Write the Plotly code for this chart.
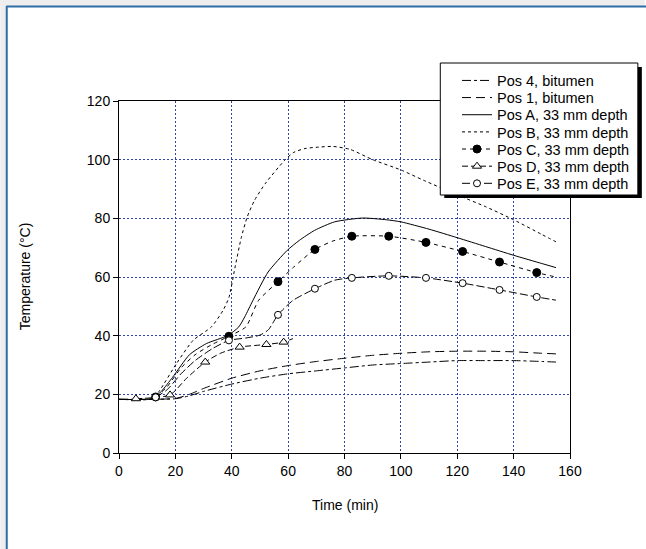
import plotly.graph_objects as go

# ---------------- data ----------------
pos4_x = [0, 10, 20, 25, 30, 40, 50, 60, 70, 80, 90, 100, 110, 120, 130, 140, 150, 155]
pos4_y = [18.3, 18.3, 18.5, 19.5, 21, 23.5, 25.5, 27, 28, 29, 30, 30.5, 31, 31.5, 31.5, 31.5, 31.2, 31]

pos1_x = [0, 10, 20, 25, 30, 40, 50, 60, 70, 80, 90, 100, 110, 120, 130, 140, 150, 155]
pos1_y = [18.3, 18.3, 18.6, 20, 22, 25.5, 28, 29.8, 31.2, 32.3, 33.3, 34, 34.5, 34.7, 34.7, 34.5, 34, 33.8]

posA_x = [0, 12, 15, 19, 25, 31, 38.7, 42.5, 44.6, 47.5, 52.9, 59.7, 64, 69.4, 76.5, 86.4, 95, 100, 110, 120, 130, 140, 150, 155]
posA_y = [18.3, 18.6, 21, 25.8, 33.5, 37.3, 40.1, 43, 46.4, 52, 61.7, 69.1, 72.5, 75.9, 78.8, 80.1, 79.5, 78.8, 76.3, 73.4, 70.4, 67.4, 64.6, 63.2]

posB_x = [0, 12, 14.5, 20.4, 26.3, 32.8, 36.9, 39, 41.1, 43.4, 45.5, 48, 52, 58.8, 62, 66, 71, 76, 82, 90, 100, 108, 120, 130, 140, 150, 155]
posB_y = [18.3, 18.5, 21.4, 30.5, 38.4, 43, 48.6, 53, 63, 73.5, 80.5, 86, 92, 99.8, 102.5, 103.8, 104.3, 104.5, 103.5, 100, 96.5, 93, 88, 84, 79.5, 74.5, 72]

# Pos C: measured points (markers) and extra points on the connecting curve
posC_mark_x = [13, 39, 56.4, 69.5, 82.6, 95.7, 108.9, 121.9, 135, 148.2]
posC_mark_y = [19.1, 39.8, 58.4, 69.4, 73.9, 73.9, 71.8, 68.7, 65.1, 61.5]
posC_curve_x = [17, 22, 27, 33, 45, 49.5, 62, 76, 155]
posC_curve_y = [22.5, 29, 33.5, 37, 43, 52, 63.4, 72.3, 60]

# Pos D
posD_mark_x = [6, 18.1, 30.6, 42.8, 52.3, 58.4]
posD_mark_y = [18.5, 19.8, 31, 36.1, 37, 37.8]
posD_curve_x = [24, 36, 61.7]
posD_curve_y = [25.5, 34, 39]

# Pos E
posE_mark_x = [13, 39, 56.4, 69.5, 82.6, 95.7, 108.9, 121.9, 135, 148.2]
posE_mark_y = [19, 38.4, 47.1, 56, 59.7, 60.4, 59.7, 57.9, 55.6, 53.2]
posE_curve_x = [17, 22, 27, 33, 45, 50, 53, 61.7, 76.5, 155]
posE_curve_y = [21.5, 27, 31.5, 35.5, 39.2, 40.2, 42, 52, 58.9, 52.1]

x_ticks = [0, 20, 40, 60, 80, 100, 120, 140, 160]
y_ticks = [0, 20, 40, 60, 80, 100, 120]

# ---------------- layout geometry ----------------
W, H = 646, 549
L, R, T, B = 119, 75, 101, 96
PW, PH = W - L - R, H - T - B
FONT = "Arial, 'Liberation Sans', sans-serif"


def px2x(px):
    return (px - L) / PW


def py2y(py):
    return (H - B - py) / PH


def merged(mx, my, cx, cy, fill, edge):
    pts = [(x, y, True) for x, y in zip(mx, my)] + [(x, y, False) for x, y in zip(cx, cy)]
    pts.sort(key=lambda p: p[0])
    xs = [p[0] for p in pts]
    ys = [p[1] for p in pts]
    fills = [fill if p[2] else "rgba(0,0,0,0)" for p in pts]
    edges = [edge if p[2] else "rgba(0,0,0,0)" for p in pts]
    return xs, ys, fills, edges


fig = go.Figure()
legend_names = []


def next_legend():
    name = "legend" if not legend_names else "legend%d" % (len(legend_names) + 1)
    legend_names.append(name)
    return name


def add_line(x, y, name, dash):
    fig.add_trace(go.Scatter(x=x, y=y, name=name, mode="lines", legend=next_legend(),
                             line=dict(color="black", width=1, dash=dash, shape="spline", smoothing=0.6)))


def add_marked(mx, my, cx, cy, name, dash, symbol, fill, size):
    xs, ys, fills, edges = merged(mx, my, cx, cy, fill, "black")
    fig.add_trace(go.Scatter(x=xs, y=ys, name=name, mode="lines+markers", legend=next_legend(),
                             line=dict(color="black", width=1, dash=dash, shape="spline", smoothing=0.6),
                             marker=dict(symbol=symbol, size=size, color=fills,
                                         line=dict(color=edges, width=1))))


add_line(pos4_x, pos4_y, "Pos 4, bitumen", "9px,3px,3px,3px")
add_line(pos1_x, pos1_y, "Pos 1, bitumen", "9px,5px")
add_line(posA_x, posA_y, "Pos A, 33 mm depth", "solid")
add_line(posB_x, posB_y, "Pos B, 33 mm depth", "3px,3px")
add_marked(posC_mark_x, posC_mark_y, posC_curve_x, posC_curve_y, "Pos C, 33 mm depth", "4px,4px", "circle", "black", 8)
add_marked(posD_mark_x, posD_mark_y, posD_curve_x, posD_curve_y, "Pos D, 33 mm depth", "6px,3px", "triangle-up", "white", 8)
add_marked(posE_mark_x, posE_mark_y, posE_curve_x, posE_curve_y, "Pos E, 33 mm depth", "8px,3px", "circle", "white", 7)

grid = dict(showgrid=True, gridcolor="#3344aa", gridwidth=1, griddash="2px,2px",
            showline=True, linecolor="black", linewidth=1, mirror=True,
            ticks="outside", ticklen=5, tickcolor="black", tickwidth=1,
            tickfont=dict(family=FONT, size=14, color="black"), zeroline=False)

fig.update_xaxes(range=[0, 160], tickvals=x_ticks, **grid)
fig.update_yaxes(range=[0, 120], tickvals=y_ticks, **grid)

# legend box (drawn as shapes so that its size matches)
BOX_L, BOX_T, BOX_R, BOX_B = 441, 63, 639, 195
shapes = [
    # hatched margin strips (approximated by light grey)
    dict(type="rect", xref="paper", yref="paper", x0=px2x(0), x1=px2x(W), y0=py2y(0), y1=py2y(6),
         fillcolor="#eeeeee", line=dict(width=0), layer="below"),
    dict(type="rect", xref="paper", yref="paper", x0=px2x(0), x1=px2x(6), y0=py2y(0), y1=py2y(H),
         fillcolor="#eeeeee", line=dict(width=0), layer="below"),
    # blue frame
    dict(type="line", xref="paper", yref="paper", x0=px2x(6), x1=px2x(W + 5), y0=py2y(6.5), y1=py2y(6.5),
         line=dict(color="#2e6ea6", width=2), layer="below"),
    dict(type="line", xref="paper", yref="paper", x0=px2x(6.5), x1=px2x(6.5), y0=py2y(6), y1=py2y(H + 5),
         line=dict(color="#2e6ea6", width=2), layer="below"),
    # legend shadow + box
    dict(type="rect", xref="paper", yref="paper", x0=px2x(BOX_L + 4), x1=px2x(BOX_R + 4),
         y0=py2y(BOX_T + 4), y1=py2y(BOX_B + 3), fillcolor="black", line=dict(width=0), layer="above"),
    dict(type="rect", xref="paper", yref="paper", x0=px2x(BOX_L), x1=px2x(BOX_R),
         y0=py2y(BOX_T), y1=py2y(BOX_B), fillcolor="white", line=dict(color="black", width=1), layer="above"),
]

annotations = [
    dict(text="Time (min)", xref="paper", yref="paper", x=px2x(345), y=py2y(505),
         showarrow=False, font=dict(family=FONT, size=14, color="black"), xanchor="center", yanchor="middle"),
    dict(text="Temperature (°C)", xref="paper", yref="paper", x=px2x(25), y=py2y(276),
         showarrow=False, textangle=-90, font=dict(family=FONT, size=14, color="black"),
         xanchor="center", yanchor="middle"),
]

layout_legends = {}
first_center, step = 80.5, 17.15
for i, lname in enumerate(legend_names):
    layout_legends[lname] = dict(
        x=px2x(457), y=py2y(first_center + i * step), xanchor="left", yanchor="middle",
        bgcolor="rgba(0,0,0,0)", borderwidth=0,
        font=dict(family=FONT, size=14.5, color="black"))

fig.update_layout(
    width=W, height=H,
    margin=dict(l=L, r=R, t=T, b=B, pad=0),
    paper_bgcolor="white", plot_bgcolor="white",
    font=dict(family=FONT, size=14, color="black"),
    shapes=shapes, annotations=annotations,
    showlegend=True,
    **layout_legends,
)

fig.write_html("out.html",
               config={"displayModeBar": False},
               post_script="document.body.style.margin='0';document.body.style.padding='0';")
